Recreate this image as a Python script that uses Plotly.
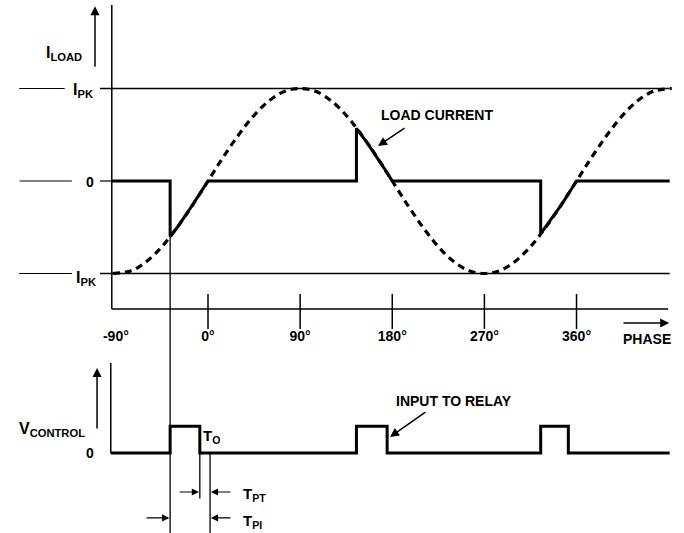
import plotly.graph_objects as go

# ---------------- data (phase in degrees, current in units of I_PK) ----------------
PHASE_TICKS = [-90, 0, 90, 180, 270, 360]
PHASE_TICK_LABELS = ["-90°", "0°", "90°", "180°", "270°", "360°"]

# dashed prospective load current
SINE_PHASE = [-93, -75, -60, -45, -30, -15, 0, 15, 30, 45, 60, 75, 90, 105, 120, 135, 150,
              165, 180, 195, 210, 225, 240, 255, 270, 285, 300, 315, 330, 345, 360, 375,
              390, 405, 420, 435, 453]
SINE_CURRENT = [-1.0, -0.97, -0.87, -0.71, -0.5, -0.26, 0.0, 0.26, 0.5, 0.71, 0.87, 0.97, 1.0,
                0.97, 0.87, 0.71, 0.5, 0.26, 0.0, -0.26, -0.5, -0.71, -0.87, -0.97, -1.0,
                -0.97, -0.87, -0.71, -0.5, -0.26, 0.0, 0.26, 0.5, 0.71, 0.87, 0.97, 1.0]

# actual load current (solid)
LOAD_PHASE = [-94, -37, -37, -30, -20, -10, 0, 145, 145, 155, 165, 172, 180,
              325, 325, 335, 345, 352, 360, 451]
LOAD_CURRENT = [0, 0, -0.60, -0.50, -0.34, -0.17, 0, 0, 0.57, 0.42, 0.26, 0.14, 0,
                0, -0.57, -0.42, -0.26, -0.14, 0, 0]

# relay control pulses
PULSE_PHASE = [-95, -37, -37, -8, -8, 145, 145, 175, 175, 325, 325, 352, 352, 451]
PULSE_LEVEL = [0, 0, 1, 1, 0, 0, 1, 1, 0, 0, 1, 1, 0, 0]

SWITCH_ON = -37     # first pulse rising edge / current switch-on
RELAY_OFF = -8      # first pulse falling edge
PICKUP_END = 2      # end of pick-up interval

# ---------------- geometry helpers ----------------
X_RANGE = [-203.2, 465.0]
Y1_RANGE = [-1.719, 1.957]
Y2_RANGE = [-2.996, 4.232]
SPLIT = 0.3621

AX_LEFT = -94
AX_RIGHT = 449.5
BOX_BOTTOM = -1.384
LINE_RIGHT = 451

FONT = "Liberation Sans"
BLACK = "black"

fig = go.Figure()


def seg(x, y, width=1.5, yaxis="y", dash=None, shape="linear"):
    fig.add_trace(go.Scatter(x=x, y=y, mode="lines", xaxis="x", yaxis=yaxis,
                             line=dict(color=BLACK, width=width, dash=dash, shape=shape),
                             hoverinfo="skip", showlegend=False))


# ---- top panel frame ----
seg([AX_LEFT, AX_LEFT], [1.903, BOX_BOTTOM])            # vertical axis
seg([AX_LEFT, AX_RIGHT], [BOX_BOTTOM, BOX_BOTTOM])      # phase axis
for lvl, x0l in [(1, -140), (-1, -133)]:
    seg([-184.5, x0l], [lvl, lvl], width=1.2)            # left stubs
    seg([-105.5, LINE_RIGHT], [lvl, lvl], width=1.3)     # I_PK lines
seg([-184, -133], [0, 0], width=1.2)
seg([-105.5, AX_LEFT], [0, 0], width=1.2)

# phase tick marks
fig.add_trace(go.Scatter(x=PHASE_TICKS[1:], y=[-1.41] * 5, mode="markers", xaxis="x", yaxis="y",
                         marker=dict(symbol="line-ns", size=25, line=dict(color=BLACK, width=1.5)),
                         hoverinfo="skip", showlegend=False))

# dashed sine
seg(SINE_PHASE, SINE_CURRENT, width=3.2, dash="7px,5px", shape="spline")
# solid load current
seg(LOAD_PHASE, LOAD_CURRENT, width=3)

# ---- bottom panel ----
seg([-95, -95], [3.37, 0], yaxis="y2")
seg(PULSE_PHASE, PULSE_LEVEL, width=3, yaxis="y2")

# vertical reference lines
seg([SWITCH_ON, SWITCH_ON], [0, Y1_RANGE[0]], width=1.3)
seg([SWITCH_ON, SWITCH_ON], [Y2_RANGE[1], Y2_RANGE[0]], width=1.3, yaxis="y2")
seg([RELAY_OFF, RELAY_OFF], [0, -1.7], width=1.3, yaxis="y2")
seg([PICKUP_END, PICKUP_END], [0, Y2_RANGE[0]], width=1.3, yaxis="y2")

ann = []


def text(x, y, t, yref="y", size=14, xanchor="center"):
    ann.append(dict(x=x, y=y, xref="x", yref=yref, text=t, showarrow=False,
                    xanchor=xanchor, yanchor="middle",
                    font=dict(family=FONT, size=size, color=BLACK, weight="bold")))


def arrow(hx, hy, tx, ty, yref="y", width=1.5, size=1.2):
    ann.append(dict(x=hx, y=hy, ax=tx, ay=ty, xref="x", yref=yref, axref="x", ayref=yref,
                    text="", showarrow=True, arrowhead=2, arrowsize=size,
                    arrowwidth=width, arrowcolor=BLACK))


# top labels
text(-140.2, 1.38, "I<sub>LOAD</sub>", size=16)
arrow(-110.4, 1.89, -110.4, 1.22)
text(-122, 0.98, "I<sub>PK</sub>", size=16)
text(-115, -0.01, "0", size=14)
text(-119, -1.05, "I<sub>PK</sub>", size=16)

text(223.7, 0.71, "LOAD CURRENT", size=14)
arrow(166.1, 0.378, 193.4, 0.584)

text(429.3, -1.71, "PHASE", size=14)
arrow(450.5, -1.535, 404.4, -1.535)

# bottom labels
text(-152.4, 0.88, "V<sub>CONTROL</sub>", yref="y2", size=16)
arrow(-108.4, 3.18, -108.4, 0.86, yref="y2")
text(-115.3, 0.0, "0", yref="y2", size=14)

text(240.3, 1.95, "INPUT TO RELAY", yref="y2", size=14)
arrow(177.8, 0.60, 213.9, 1.573, yref="y2")

text(-7, 0.6, "T<sub>O</sub>", yref="y2", size=15, xanchor="left")
text(32.5, -1.55, "T<sub>PT</sub>", yref="y2", size=15, xanchor="left")
text(32.5, -2.55, "T<sub>PI</sub>", yref="y2", size=15, xanchor="left")

arrow(RELAY_OFF - 0.8, -1.46, -29.3, -1.46, yref="y2", width=1.2)
arrow(PICKUP_END + 0.8, -1.46, 23.4, -1.46, yref="y2", width=1.2)
arrow(SWITCH_ON - 0.8, -2.43, -61.5, -2.43, yref="y2", width=1.2)
arrow(PICKUP_END + 0.8, -2.43, 23.4, -2.43, yref="y2", width=1.2)

fig.update_layout(
    width=684, height=533,
    margin=dict(l=0, r=0, t=0, b=0),
    paper_bgcolor="white", plot_bgcolor="white",
    showlegend=False,
    font=dict(family=FONT, color=BLACK),
    xaxis=dict(range=X_RANGE, domain=[0, 1], anchor="free", position=0.3884,
               showgrid=False, zeroline=False, showline=False, ticks="",
               tickmode="array", tickvals=PHASE_TICKS, ticktext=PHASE_TICK_LABELS,
               tickfont=dict(family=FONT, size=14, color=BLACK, weight="bold"),
               fixedrange=True),
    yaxis=dict(range=Y1_RANGE, domain=[SPLIT, 1], visible=False, fixedrange=True),
    yaxis2=dict(range=Y2_RANGE, domain=[0, SPLIT], visible=False, anchor="x", fixedrange=True),
    annotations=ann,
)

fig.write_html(
    "out.html",
    config={"displayModeBar": False},
    post_script="document.body.style.margin='0px';document.body.style.overflow='hidden';",
)
